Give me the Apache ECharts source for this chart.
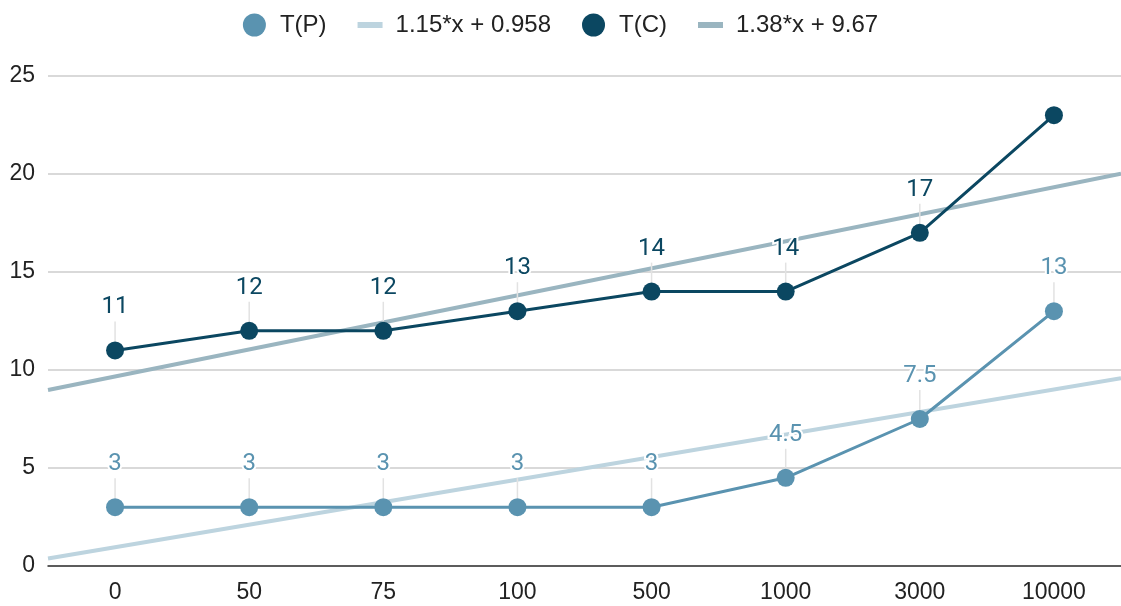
<!DOCTYPE html>
<html><head><meta charset="utf-8">
<script src="https://cdn.jsdelivr.net/npm/echarts@6/dist/echarts.min.js"></script>
<style>html,body{margin:0;padding:0;background:#fff}#c{width:1121px;height:606px}</style>
</head><body><div id="c"></div>
<script>
const categories = ['0','50','75','100','500','1000','3000','10000'];
const tP = [3,3,3,3,3,4.5,7.5,13];
const tC = [11,12,12,13,14,14,17,23];
const tCHiddenLabels = [7]; // the reference shows no label on the last T(C) point
const trendP = {slope:1.15, intercept:0.958, name:'1.15*x + 0.958'};
const trendC = {slope:1.38, intercept:9.67, name:'1.38*x + 9.67'};
const yTicks = [0,5,10,15,20,25];

const xs = [-0.5, categories.length - 0.5];
const trendData = t => xs.map(x => [x, t.slope * x + t.intercept]);

const cP = '#5a93b0', cC = '#0b4761', cTP = '#bdd4df', cTC = '#9ab5c0';
const lineIcon = 'path://M0,0h25v6h-25z';

const labelCfg = color => ({
  show: true, position: 'top', distance: 0, color: color,
  fontFamily: 'Roboto', fontSize: 24,
  textBorderColor: '#fff', textBorderWidth: 4
});
const leader = {show: true, lineStyle: {color: '#e2e2e2', width: 1.5}};

const chart = echarts.init(document.getElementById('c'), null, {renderer:'canvas'});
chart.setOption({
  animation: false,
  legend: {
    top: 8, left: 'center', itemWidth: 25, itemHeight: 23, itemGap: 31,
    textStyle: {fontFamily: 'Liberation Sans', fontSize: 24, color: '#222', padding: [0,0,0,8]},
    data: [
      {name:'T(P)', icon:'circle'},
      {name:trendP.name, icon:lineIcon},
      {name:'T(C)', icon:'circle'},
      {name:trendC.name, icon:lineIcon}
    ]
  },
  grid: {left: 48, right: 0, top: 76, bottom: 40},
  xAxis: [{
    type: 'category', data: categories, boundaryGap: true,
    axisLine: {lineStyle: {color: '#333', width: 1.5}},
    axisTick: {show: false},
    axisLabel: {fontFamily: 'Liberation Sans', fontSize: 23, color: '#222', margin: 15}
  },{
    type: 'value', min: -0.5, max: categories.length - 0.5, show: false
  }],
  yAxis: {
    type: 'value', min: yTicks[0], max: yTicks[yTicks.length-1], interval: 5,
    axisLine: {show: false}, axisTick: {show: false},
    splitLine: {lineStyle: {color: '#cccccc', width: 1.5}},
    axisLabel: {fontFamily: 'Liberation Sans', fontSize: 23, color: '#222', margin: 13}
  },
  series: [
    {
      name: trendP.name, type: 'line', xAxisIndex: 1, data: trendData(trendP),
      symbol: 'none', lineStyle: {color: cTP, width: 4}, itemStyle: {color: cTP}, z: 1, silent: true
    },
    {
      name: trendC.name, type: 'line', xAxisIndex: 1, data: trendData(trendC),
      symbol: 'none', lineStyle: {color: cTC, width: 4}, itemStyle: {color: cTC}, z: 1, silent: true
    },
    {
      name: 'T(P)', type: 'line', data: tP, symbol: 'circle', symbolSize: 18,
      lineStyle: {color: cP, width: 3}, itemStyle: {color: cP}, z: 3,
      label: labelCfg(cP), labelLayout: {dy: -22}, labelLine: leader
    },
    {
      name: 'T(C)', type: 'line', symbol: 'circle', symbolSize: 18,
      data: tC.map((v, i) => tCHiddenLabels.includes(i)
        ? {value: v, label: {show: false}, labelLine: {show: false}} : v),
      lineStyle: {color: cC, width: 3}, itemStyle: {color: cC}, z: 3,
      label: labelCfg(cC), labelLayout: {dy: -22}, labelLine: leader
    }
  ]
});
</script></body></html>
